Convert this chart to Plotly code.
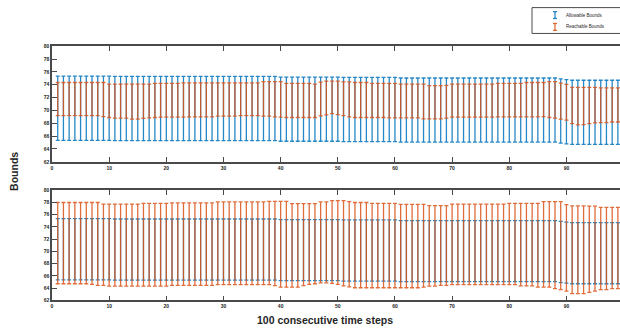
import plotly.graph_objects as go

# time steps
steps = list(range(1, 101))

# allowable bounds (shared by both panels)
allow_hi = [75.35] * 10 + [75.3] * 29 + [75.2] * 11 + [75.15] * 10 + [75.05] * 28 + [74.9, 74.8] + [74.7] * 10
allow_lo = [65.35] * 10 + [65.3] * 29 + [65.2] * 11 + [65.15] * 10 + [65.05] * 28 + [64.9, 64.8] + [64.7] * 10

# reachable bounds, upper panel
reach1_lo = [
    69.2, 69.2, 69.2, 69.2, 69.2, 69.2, 69.2, 69.2, 69.05, 68.9,
    68.8, 68.8, 68.8, 68.65, 68.65, 68.75, 68.85, 68.9, 68.95, 68.95,
    68.95, 68.95, 68.95, 69.0, 69.0, 69.0, 69.0, 69.0, 69.1, 69.1,
    69.1, 69.1, 69.2, 69.2, 69.2, 69.2, 69.1, 69.1, 69.0, 68.95,
    68.9, 68.9, 68.9, 68.9, 68.9, 68.9, 69.15, 69.3, 69.5, 69.35,
    69.2, 69.0, 68.9, 68.9, 68.9, 68.9, 68.9, 68.9, 68.85, 68.85,
    68.85, 68.85, 68.85, 68.85, 68.7, 68.7, 68.7, 68.7, 68.8, 68.95,
    68.95, 68.95, 68.95, 68.95, 68.95, 68.95, 68.95, 69.0, 69.0, 69.0,
    69.0, 69.0, 69.0, 69.0, 69.0, 69.05, 68.9, 68.8, 68.65, 68.5,
    67.95, 67.75, 67.8, 67.95, 68.05, 68.1, 68.1, 68.2, 68.2, 68.2,
]
reach1_hi = [
    74.35, 74.35, 74.35, 74.35, 74.35, 74.35, 74.35, 74.35, 74.35, 74.1,
    74.1, 74.1, 74.1, 74.1, 74.1, 74.1, 74.1, 74.2, 74.2, 74.2,
    74.2, 74.2, 74.3, 74.3, 74.3, 74.3, 74.3, 74.3, 74.3, 74.3,
    74.3, 74.3, 74.3, 74.3, 74.3, 74.3, 74.5, 74.5, 74.5, 74.5,
    74.2, 74.2, 74.2, 74.2, 74.2, 74.1, 74.4, 74.55, 74.55, 74.55,
    74.45, 74.45, 74.35, 74.35, 74.35, 74.2, 74.2, 74.2, 74.2, 74.2,
    74.1, 74.1, 74.1, 74.1, 74.1, 73.85, 73.85, 73.85, 73.9, 74.1,
    74.1, 74.1, 74.1, 74.1, 74.1, 74.1, 74.1, 74.2, 74.2, 74.2,
    74.2, 74.2, 74.35, 74.35, 74.35, 74.35, 74.5, 74.5, 74.25, 74.05,
    73.6, 73.6, 73.6, 73.6, 73.6, 73.5, 73.5, 73.5, 73.5, 73.5,
]

# reachable bounds, lower panel
reach2_lo = [
    64.7, 64.7, 64.7, 64.7, 64.7, 64.7, 64.6, 64.45, 64.45, 64.3,
    64.3, 64.3, 64.3, 64.3, 64.3, 64.3, 64.3, 64.3, 64.3, 64.3,
    64.45, 64.45, 64.45, 64.45, 64.45, 64.45, 64.45, 64.45, 64.55, 64.55,
    64.55, 64.55, 64.55, 64.55, 64.55, 64.55, 64.55, 64.55, 64.4, 64.15,
    64.15, 64.15, 64.15, 64.4, 64.6, 64.7, 64.85, 64.85, 64.75, 64.6,
    64.35, 64.2, 64.05, 64.05, 64.05, 64.05, 64.05, 64.05, 64.05, 64.05,
    64.05, 64.05, 64.05, 64.05, 64.15, 64.3, 64.3, 64.45, 64.45, 64.55,
    64.55, 64.55, 64.55, 64.55, 64.55, 64.55, 64.55, 64.55, 64.55, 64.55,
    64.55, 64.35, 64.35, 64.35, 64.15, 64.15, 64.15, 63.9, 63.75, 63.5,
    63.1, 63.1, 63.1, 63.3, 63.5, 63.75, 63.75, 63.9, 63.9, 63.9,
]
reach2_hi = [
    78.0, 78.0, 78.0, 78.0, 78.0, 78.0, 78.0, 78.0, 77.75, 77.75,
    77.75, 77.75, 77.75, 77.75, 77.75, 77.85, 77.85, 77.85, 77.85, 77.85,
    77.95, 77.95, 77.95, 77.95, 77.95, 77.95, 77.95, 77.95, 78.1, 78.1,
    78.1, 78.1, 78.1, 78.1, 78.1, 78.1, 78.1, 78.2, 78.2, 78.2,
    78.2, 77.8, 77.8, 77.8, 77.8, 77.8, 78.1, 78.1, 78.3, 78.3,
    78.3, 78.15, 78.0, 78.0, 78.0, 77.85, 77.85, 77.85, 77.85, 77.85,
    77.7, 77.7, 77.7, 77.7, 77.7, 77.5, 77.5, 77.5, 77.5, 77.75,
    77.75, 77.75, 77.75, 77.75, 77.75, 77.75, 77.75, 77.75, 77.75, 77.85,
    77.85, 77.85, 77.85, 77.85, 77.85, 78.15, 78.15, 78.15, 78.15, 77.65,
    77.45, 77.45, 77.45, 77.4, 77.4, 77.2, 77.2, 77.2, 77.2, 77.2,
]

x_ticks = [0, 10, 20, 30, 40, 50, 60, 70, 80, 90, 100]
y_ticks = [62, 64, 66, 68, 70, 72, 74, 76, 78, 80]

BLUE = "rgba(0,114,189,0.85)"
ORANGE = "rgba(217,83,25,0.85)"
AXC = "#4a4a4a"
W, H = 620, 335
ML = 52


def bound_trace(lo, hi, color, xa, ya, name):
    mid = [(a + b) / 2 for a, b in zip(lo, hi)]
    return go.Scatter(
        x=steps, y=mid, mode="markers", name=name, showlegend=False,
        marker=dict(size=1, color="rgba(0,0,0,0)"),
        error_y=dict(type="data", symmetric=False,
                     array=[h - m for h, m in zip(hi, mid)],
                     arrayminus=[m - l for m, l in zip(mid, lo)],
                     color=color, thickness=1.3, width=2),
        xaxis=xa, yaxis=ya, hoverinfo="skip",
    )


fig = go.Figure()
fig.add_trace(bound_trace(allow_lo, allow_hi, BLUE, "x", "y", "Allowable Bounds"))
fig.add_trace(bound_trace(reach1_lo, reach1_hi, ORANGE, "x", "y", "Reachable Bounds"))
fig.add_trace(bound_trace(allow_lo, allow_hi, BLUE, "x2", "y2", "Allowable Bounds"))
fig.add_trace(bound_trace(reach2_lo, reach2_hi, ORANGE, "x2", "y2", "Reachable Bounds"))

tickfont = dict(family="Liberation Sans, Arial", size=5, color="#262626", weight="bold")
xcommon = dict(range=[0, (W - ML) / 5.716], tickvals=x_ticks, ticks="inside", ticklen=5,
               tickwidth=1.3, tickcolor=AXC, showline=True, linecolor=AXC, linewidth=1.5,
               mirror="ticks", showgrid=False, zeroline=False, tickfont=tickfont)
ycommon = dict(range=[62, 80], tickvals=y_ticks, ticks="inside", ticklen=5,
               tickwidth=1.3, tickcolor=AXC, showline=True, linecolor=AXC, linewidth=1.5,
               showgrid=False, zeroline=False, tickfont=tickfont)


def py(px):
    return 1 - px / H


def pxx(px):
    return (px - ML) / (W - ML)


fig.update_layout(
    width=W, height=H, margin=dict(l=ML, r=0, t=0, b=0),
    paper_bgcolor="white", plot_bgcolor="white", showlegend=False,
    xaxis=dict(**xcommon, domain=[0, 1], anchor="y"),
    yaxis=dict(**ycommon, domain=[py(161.7), py(44)], anchor="x"),
    xaxis2=dict(**xcommon, domain=[0, 1], anchor="y2"),
    yaxis2=dict(**ycommon, domain=[py(302.7), py(190.7)], anchor="x2"),
)

# axis titles
fig.add_annotation(text="Bounds", xref="paper", yref="paper", x=pxx(14), y=py(172),
                   xanchor="center", yanchor="middle", showarrow=False, textangle=-90,
                   font=dict(family="Liberation Sans, Arial", size=10.5, color="#262626", weight="bold"))
fig.add_annotation(text="100 consecutive time steps", xref="paper", yref="paper",
                   x=pxx(325), y=py(323), xanchor="center", yanchor="middle", showarrow=False,
                   font=dict(family="Liberation Sans, Arial", size=10.5, color="#262626", weight="bold"))

# legend box
fig.add_shape(type="rect", xref="paper", yref="paper", x0=pxx(532), x1=pxx(640),
              y0=py(31), y1=py(4.7), line=dict(color=AXC, width=1), fillcolor="white", layer="above")
for name, col, yc in [("Allowable Bounds", BLUE, 12.3), ("Reachable Bounds", ORANGE, 24.3)]:
    fig.add_shape(type="line", xref="paper", yref="paper", x0=pxx(555), x1=pxx(555),
                  y0=py(yc - 3.5), y1=py(yc + 3.5), line=dict(color=col, width=1.3), layer="above")
    for dy in (-3.5, 3.5):
        fig.add_shape(type="line", xref="paper", yref="paper", x0=pxx(553), x1=pxx(557),
                      y0=py(yc + dy), y1=py(yc + dy), line=dict(color=col, width=1.3), layer="above")
    fig.add_annotation(text=name, xref="paper", yref="paper", x=pxx(564), y=py(yc),
                       xanchor="left", yanchor="middle", showarrow=False,
                       font=dict(family="Liberation Sans, Arial", size=4.5, color="#262626"))

fig.write_html("out.html")
